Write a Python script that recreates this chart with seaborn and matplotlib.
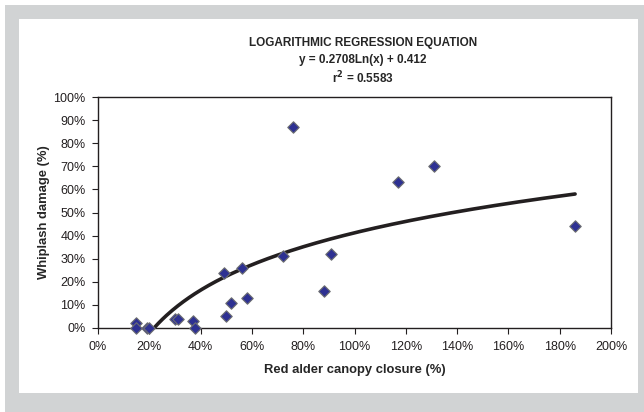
import numpy as np
import pandas as pd
import matplotlib.pyplot as plt
import seaborn as sns
from matplotlib.patches import Rectangle
from matplotlib.ticker import PercentFormatter

# canopy closure (%) and whiplash damage (%)
canopy = [15, 15, 19, 20, 30, 31, 37, 38, 49, 50, 52, 56, 58, 72, 76, 88, 91, 117, 131, 186]
damage = [2, 0, 0, 0, 4, 4, 3, 0, 24, 5, 11, 26, 13, 31, 87, 16, 32, 63, 70, 44]

slope = 0.2708
intercept = 0.412
r2 = 0.5583

df = pd.DataFrame({"canopy": canopy, "damage": damage})

sns.set_style("white")
plt.rcParams['font.family'] = ['Liberation Sans', 'DejaVu Sans']

fig = plt.figure(figsize=(6.44, 4.12), dpi=100)
fig.patch.set_facecolor("white")
# grey frame with white panel
fig.patches.append(Rectangle((5 / 644, 0), 639 / 644, 407 / 412, transform=fig.transFigure,
                             facecolor="#d1d3d4", edgecolor="none", zorder=-2))
fig.patches.append(Rectangle((19 / 644, 19 / 412), 619 / 644, 374 / 412, transform=fig.transFigure,
                             facecolor="white", edgecolor="none", zorder=-1))

ax = fig.add_axes([98 / 644, 84 / 412, 513 / 644, 231 / 412])
ax.set_facecolor("white")

# fitted logarithmic curve
x0 = np.exp(-intercept / slope)
xs = np.linspace(x0, max(canopy) / 100, 300)
ys = slope * np.log(xs) + intercept
sns.lineplot(x=xs * 100, y=ys * 100, ax=ax, color="#231f20", linewidth=2.6, zorder=2)

sns.scatterplot(data=df, x="canopy", y="damage", ax=ax, marker="D", s=34,
                color="#2e3192", edgecolor="#6d6e71", linewidth=0.8, zorder=3, clip_on=False)

ax.set_xlim(0, 200)
ax.set_ylim(0, 100)
ax.set_xticks(np.arange(0, 201, 20))
ax.set_yticks(np.arange(0, 101, 10))
ax.xaxis.set_major_formatter(PercentFormatter(decimals=0))
ax.yaxis.set_major_formatter(PercentFormatter(decimals=0))
ax.tick_params(axis="both", labelsize=9, length=4, width=0.8, direction="out",
               bottom=True, left=True, colors="#231f20", pad=5)
for s in ax.spines.values():
    s.set_color("#231f20")
    s.set_linewidth(1.0)

ax.set_xlabel("Red alder canopy closure (%)", fontsize=9.4, fontweight="bold", labelpad=8)
ax.set_ylabel("Whiplash damage (%)", fontsize=9.4, fontweight="bold", labelpad=2)

fig.text(363 / 644, 1 - 43 / 412, "LOGARITHMIC REGRESSION EQUATION", ha="center", va="center",
         fontsize=8.5, fontweight="bold")
fig.text(363 / 644, 1 - 60 / 412, f"y = {slope}Ln(x) + {intercept}", ha="center", va="center",
         fontsize=8.5, fontweight="bold")
fig.text(363 / 644, 1 - 78 / 412, f"r$^{{\\mathbf{{2}}}}$ = {r2}", ha="center", va="center",
         fontsize=8.5, fontweight="bold")

fig.savefig("out.png", dpi=100)
